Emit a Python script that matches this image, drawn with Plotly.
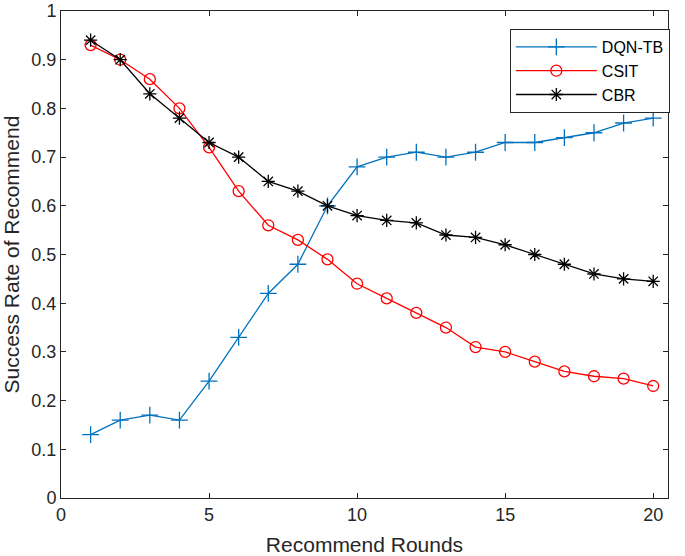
import plotly.graph_objects as go

rounds = list(range(1, 21))
dqn_tb = [0.13, 0.16, 0.17, 0.16, 0.24, 0.33, 0.42, 0.48, 0.60, 0.68,
          0.70, 0.71, 0.70, 0.71, 0.73, 0.73, 0.74, 0.75, 0.77, 0.78]
csit = [0.93, 0.90, 0.86, 0.80, 0.72, 0.63, 0.56, 0.53, 0.49, 0.44,
        0.41, 0.38, 0.35, 0.31, 0.30, 0.28, 0.26, 0.25, 0.245, 0.23]
cbr = [0.94, 0.90, 0.83, 0.78, 0.73, 0.70, 0.65, 0.63, 0.60, 0.58,
       0.57, 0.565, 0.54, 0.535, 0.52, 0.50, 0.48, 0.46, 0.45, 0.445]
x_ticks = [0, 5, 10, 15, 20]
y_ticks = [0, 0.1, 0.2, 0.3, 0.4, 0.5, 0.6, 0.7, 0.8, 0.9, 1]
y_tick_text = ["0", "0.1", "0.2", "0.3", "0.4", "0.5", "0.6", "0.7", "0.8", "0.9", "1"]

fig = go.Figure()
fig.add_trace(go.Scatter(x=rounds, y=dqn_tb, name="DQN-TB", mode="lines+markers",
                         line=dict(color="#0072BD", width=1.3),
                         marker=dict(symbol="cross-thin-open", size=12,
                                     line=dict(color="#0072BD", width=1.3))))
fig.add_trace(go.Scatter(x=rounds, y=csit, name="CSIT", mode="lines+markers",
                         line=dict(color="#FF0000", width=1.3),
                         marker=dict(symbol="circle-open", size=11,
                                     line=dict(color="#FF0000", width=1.3))))
fig.add_trace(go.Scatter(x=rounds, y=cbr, name="CBR", mode="lines+markers",
                         line=dict(color="#000000", width=1.3),
                         marker=dict(symbol="asterisk-open", size=11,
                                     line=dict(color="#000000", width=1.3))))

axis_common = dict(showline=True, mirror="ticks", linecolor="#262626", linewidth=1,
                   ticks="inside", ticklen=5, tickcolor="#262626", showgrid=False,
                   zeroline=False, automargin=False,
                   tickfont=dict(size=18, color="#262626"))
fig.update_layout(
    width=685, height=556,
    margin=dict(l=61, r=17, t=11, b=58),
    paper_bgcolor="white", plot_bgcolor="white",
    font=dict(family="Liberation Sans, Arial, sans-serif", color="#262626"),
    xaxis=dict(range=[0, 20.5], tickvals=x_ticks,
               title=dict(text="Recommend Rounds", font=dict(size=21)),
               **axis_common),
    yaxis=dict(range=[0, 1], tickvals=y_ticks, ticktext=y_tick_text,
               title=dict(text="Success Rate of Recommend", font=dict(size=21)),
               **axis_common),
    legend=dict(x=1.003, y=0.963, xanchor="right", yanchor="top",
                bgcolor="white", bordercolor="#262626", borderwidth=1,
                font=dict(size=16, color="#000000"), tracegroupgap=0,
                itemwidth=81),
    showlegend=True,
)
fig.write_html("out.html", config={"displayModeBar": False},
               post_script="document.body.style.margin='0';document.body.style.overflow='hidden';")
